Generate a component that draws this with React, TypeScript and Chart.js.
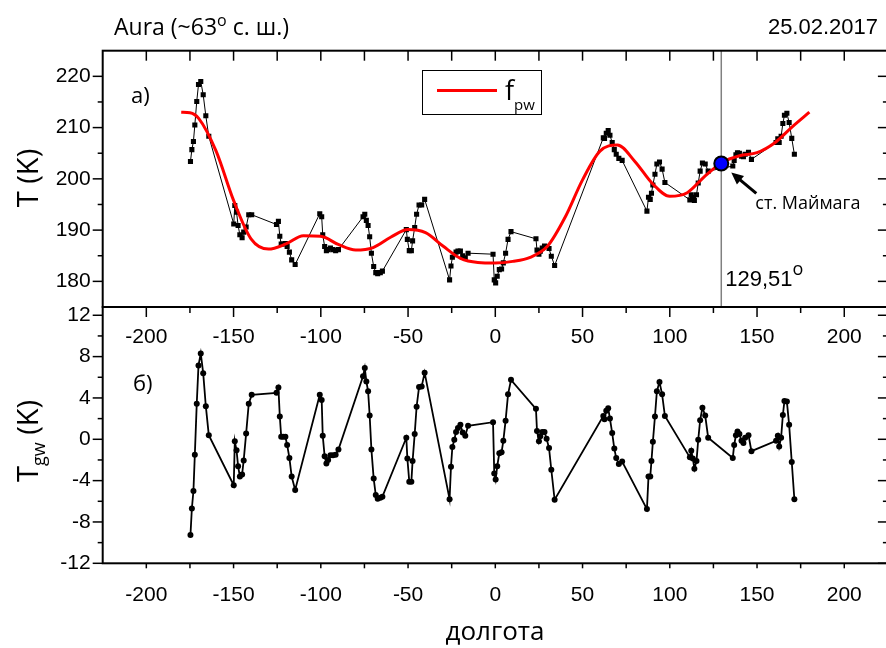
import React, { useEffect, useRef } from "react";
import { Chart, registerables } from "chart.js";
Chart.register(...registerables);

// longitude of each measurement (deg)
const lon = [
  -174.7, -173.9, -173.0, -172.2, -171.1, -170.1, -168.8, -167.4, -165.9, -164.2,
  -149.9, -149.3, -148.3, -147.4, -146.4, -145.1, -144.2, -142.8, -141.3, -139.6,
  -125.4, -124.3, -123.5, -122.7, -121.6, -120.3, -119.3, -118.0, -116.7, -114.7,
  -100.6, -99.5, -98.9, -97.8, -96.8, -95.8, -94.5, -93.0, -91.5, -89.9,
  -75.8, -74.8, -73.9, -72.9, -72.0, -71.0, -69.7, -68.5, -67.4, -65.9, -64.7,
  -51.0, -50.4, -49.3, -48.1, -47.4, -46.2, -45.1, -43.7, -42.2, -40.5,
  -26.2, -25.4, -24.6, -23.5, -22.5, -21.4, -20.0, -18.7, -17.2, -15.6,
  -1.3, -0.6, 0.2, 1.1, 2.3, 3.6, 4.6, 5.9, 7.3, 9.0,
  23.3, 23.9, 25.0, 25.8, 26.9, 28.2, 29.4, 30.8, 32.1, 34.0,
  61.9, 62.6, 63.6, 64.7, 65.7, 67.0, 68.2, 69.3, 70.8, 72.7,
  86.9, 87.8, 88.8, 89.5, 90.3, 91.5, 92.6, 94.1, 95.6, 97.2,
  111.5, 112.3, 113.2, 114.1, 115.3, 116.3, 117.4, 118.7, 120.3, 122.0,
  136.1, 136.9, 137.9, 138.8, 139.9, 141.1, 142.2, 143.2, 145.1, 146.8,
  160.9, 161.9, 162.7, 163.8, 164.8, 165.7, 167.1, 168.4, 169.9, 171.4,
];

// temperature T (K), upper panel
const tK = [
  203.4, 205.7, 207.3, 210.5, 215.1, 218.4, 219.0, 216.4, 212.3, 208.3,
  191.2, 194.8, 193.5, 190.9, 189.1, 188.5, 189.6, 190.6, 193.0, 193.0,
  191.1, 191.7, 188.8, 187.3, 187.3, 187.4, 186.8, 185.7, 184.2, 183.3,
  193.2, 192.6, 189.1, 186.8, 186.0, 186.2, 186.5, 186.2, 186.0, 186.2,
  192.6, 193.1, 191.9, 190.9, 188.7, 185.5, 182.9, 181.7, 181.5, 181.7, 182.0,
  190.1, 188.2, 186.0, 186.0, 187.9, 190.5, 193.1, 194.9, 194.9, 196.0,
  180.3, 183.0, 184.7, 185.2, 185.7, 185.9, 185.9, 185.0, 184.6, 185.5,
  185.3, 180.3, 179.7, 181.0, 182.3, 182.4, 183.6, 185.5, 188.2, 189.7,
  188.3, 186.1, 185.3, 185.9, 186.5, 186.9, 186.8, 186.4, 184.9, 183.1,
  208.0, 207.9, 208.9, 209.4, 208.5, 207.1, 205.7, 204.8, 204.0, 203.6,
  193.7, 196.4, 196.0, 197.2, 198.8, 200.9, 202.9, 203.3, 201.9, 199.3,
  195.9, 196.9, 196.4, 195.8, 196.9, 199.2, 201.5, 203.1, 202.9, 201.5,
  202.5, 203.6, 204.7, 205.1, 205.0, 204.4, 204.3, 204.8, 205.2, 203.8,
  207.1, 207.8, 207.1, 208.3, 210.8, 212.4, 212.8, 211.0, 207.9, 204.8,
];

// gravity-wave residual T_gw (K), lower panel
const tgw = [
  -9.25, -6.7, -5.0, -1.5, 3.45, 7.15, 8.3, 6.4, 3.2, 0.4,
  -4.45, -0.2, -1.05, -2.6, -3.6, -3.4, -2.05, 0.55, 3.45, 4.3,
  4.5, 5.0, 2.2, 0.25, 0.25, 0.25, -0.55, -1.8, -3.6, -4.9,
  4.3, 3.8, 0.35, -1.65, -2.35, -2.0, -1.55, -1.55, -1.5, -1.0,
  6.1, 6.9, 5.6, 4.65, 2.3, -1.0, -3.8, -5.4, -5.75, -5.65, -5.55,
  0.15, -1.85, -4.1, -4.1, -2.1, 0.5, 3.15, 5.05, 5.1, 6.45,
  -5.8, -2.65, -0.75, -0.05, 0.7, 1.1, 1.4, 0.65, 0.35, 1.3,
  1.65, -3.3, -3.9, -2.6, -1.35, -1.25, -0.15, 1.8, 4.35, 5.75,
  2.95, 0.8, -0.2, 0.3, 0.7, 0.7, 0.05, -0.85, -2.95, -5.85,
  2.25, 1.95, 2.75, 3.0, 2.0, 0.6, -0.9, -1.8, -2.4, -2.15,
  -6.75, -3.6, -3.6, -2.1, -0.25, 2.2, 4.65, 5.55, 4.35, 2.25,
  -1.75, -1.1, -1.85, -2.85, -2.1, -0.05, 1.85, 3.05, 2.3, 0.15,
  -1.8, -0.55, 0.4, 0.75, 0.5, -0.15, -0.35, 0.15, 0.4, -1.15,
  -0.15, 0.35, -0.7, 0.15, 2.35, 3.7, 3.65, 1.4, -2.2, -5.8,
];

// planetary-wave fit f_pw (K)
const fpwLon = [
  -180, -175, -170, -160, -150, -140, -130, -120, -110, -100, -90, -80, -70, -60,
  -50, -40, -30, -20, -10, 0, 10, 20, 30, 40, 50, 60, 70, 80, 90, 100, 110, 120,
  130, 140, 150, 160, 170, 180,
];
const fpwK = [
  213.0, 212.9, 211.8, 205.4, 195.8, 188.3, 186.3, 187.3, 188.9, 188.8, 187.2, 186.1, 186.6, 188.6,
  190.1, 189.5, 186.9, 184.5, 183.7, 183.6, 183.9, 184.7, 186.9, 192.5, 199.8, 205.4, 206.6, 203.4,
  199.1, 196.6, 197.3, 200.5, 203.2, 204.5, 205.1, 207.0, 210.1, 213.0,
];

const stationLon = 129.51;
const stationT = 203.0;

const xTicks = [-200, -150, -100, -50, 0, 50, 100, 150, 200];
const xMinorTicks = [-175, -125, -75, -25, 25, 75, 125, 175];
const yTopTicks = [180, 190, 200, 210, 220];
const yTopMinor = [185, 195, 205, 215];
const yBotTicks = [-12, -8, -4, 0, 4, 8, 12];
const yBotMinor = [-10, -6, -2, 2, 6, 10];

const OS = "'Open Sans', 'DejaVu Sans', sans-serif";
const LS = "'Liberation Sans', Arial, sans-serif";

type Part = { text: string; font: string; dy?: number };
function drawParts(ctx: CanvasRenderingContext2D, parts: Part[], x: number, y: number, align: string) {
  let total = 0;
  for (const p of parts) {
    ctx.font = p.font;
    total += ctx.measureText(p.text).width;
  }
  let cx = align === "left" ? x : align === "center" ? x - total / 2 : x - total;
  ctx.textAlign = "left";
  for (const p of parts) {
    ctx.font = p.font;
    ctx.fillText(p.text, cx, y + (p.dy || 0));
    cx += ctx.measureText(p.text).width;
  }
}

export default function App() {
  const ref = useRef<HTMLCanvasElement>(null);
  useEffect(() => {
    document.body.style.margin = "0";
    const canvas = ref.current!;
    const W = 900;
    const H = 648;
    const L = 102.7;
    const R = 887.9;
    const TOP = 50.7;
    const BOT = 563.3;

    const plugin = {
      id: "decor",
      afterDatasetsDraw(chart: any) {
        const ctx: CanvasRenderingContext2D = chart.ctx;
        const x = chart.scales.x;
        const yT = chart.scales.yT;
        const yB = chart.scales.yB;
        const l = chart.chartArea.left;
        const r = chart.chartArea.right;
        const line = (x1: number, y1: number, x2: number, y2: number) => {
          ctx.beginPath();
          ctx.moveTo(x1, y1);
          ctx.lineTo(x2, y2);
          ctx.stroke();
        };
        ctx.save();
        ctx.strokeStyle = "#000";
        ctx.lineWidth = 1.5;
        // upper panel ticks
        for (const v of [...xTicks, ...xMinorTicks]) {
          const px = x.getPixelForValue(v);
          line(px, yT.top, px, yT.top + 10);
        }
        for (const v of yTopTicks) {
          const py = yT.getPixelForValue(v);
          line(l - 10, py, l, py);
          line(r - 10, py, r, py);
        }
        for (const v of yTopMinor) {
          const py = yT.getPixelForValue(v);
          line(l - 5, py, l, py);
          line(r - 5, py, r, py);
        }
        // lower panel ticks
        for (const v of xTicks) {
          const px = x.getPixelForValue(v);
          line(px, yB.top, px, yB.top + 10);
          line(px, yB.bottom, px, yB.bottom + 5);
        }
        for (const v of xMinorTicks) {
          const px = x.getPixelForValue(v);
          line(px, yB.top, px, yB.top + 6);
          line(px, yB.bottom, px, yB.bottom + 5);
        }
        for (const v of yBotTicks) {
          const py = yB.getPixelForValue(v);
          line(l - 10, py, l, py);
          line(r - 10, py, r, py);
        }
        for (const v of yBotMinor) {
          const py = yB.getPixelForValue(v);
          line(l - 5, py, l, py);
          line(r - 5, py, r, py);
        }
        // frames
        ctx.lineWidth = 2;
        ctx.strokeRect(l, yT.top, r - l, yT.bottom - yT.top);
        ctx.strokeRect(l, yB.top, r - l, yB.bottom - yB.top);

        // inner tick labels of lower panel top axis
        ctx.fillStyle = "#000";
        ctx.font = `21px ${LS}`;
        ctx.textAlign = "center";
        ctx.textBaseline = "middle";
        for (const v of xTicks) {
          ctx.fillText(String(v), x.getPixelForValue(v), yB.top + 30);
        }
        ctx.textBaseline = "alphabetic";

        // panel letters
        drawParts(ctx, [{ text: "а)", font: `22px ${OS}` }], 131, 103, "left");
        drawParts(ctx, [{ text: "б)", font: `22px ${OS}` }], 133, 391, "left");

        // header
        drawParts(
          ctx,
          [
            { text: "Aura (~63", font: `23px ${OS}` },
            { text: "o", font: `16px ${OS}`, dy: -9 },
            { text: " с. ш.)", font: `23px ${OS}` },
          ],
          114,
          35,
          "left"
        );
        drawParts(ctx, [{ text: "25.02.2017", font: `22px ${LS}` }], 878, 34, "right");

        // legend
        ctx.lineWidth = 1;
        ctx.strokeRect(422.5, 70.5, 119, 44);
        ctx.strokeStyle = "#ff0000";
        ctx.lineWidth = 3;
        line(437, 90.5, 497, 90.5);
        drawParts(
          ctx,
          [
            { text: "f", font: `27px ${OS}` },
            { text: "pw", font: `15px ${OS}`, dy: 10 },
          ],
          505,
          100,
          "left"
        );

        // station annotation
        const sx = x.getPixelForValue(stationLon);
        drawParts(
          ctx,
          [
            { text: "129,51", font: `22px ${LS}` },
            { text: "o", font: `18px ${OS}`, dy: -11 },
          ],
          sx + 4,
          286,
          "left"
        );
        drawParts(ctx, [{ text: "ст. Маймага", font: `18px ${OS}` }], sx + 34, 209, "left");
        // arrow
        const sy = yT.getPixelForValue(stationT);
        const tipX = sx + 10;
        const tipY = sy + 9;
        const tailX = sx + 35;
        const tailY = sy + 30;
        const ang = Math.atan2(tipY - tailY, tipX - tailX);
        ctx.strokeStyle = "#000";
        ctx.lineWidth = 3;
        line(tailX, tailY, tipX - 8 * Math.cos(ang), tipY - 8 * Math.sin(ang));
        ctx.beginPath();
        ctx.moveTo(tipX, tipY);
        ctx.lineTo(tipX - 12 * Math.cos(ang) + 5.5 * Math.sin(ang), tipY - 12 * Math.sin(ang) - 5.5 * Math.cos(ang));
        ctx.lineTo(tipX - 12 * Math.cos(ang) - 5.5 * Math.sin(ang), tipY - 12 * Math.sin(ang) + 5.5 * Math.cos(ang));
        ctx.closePath();
        ctx.fillStyle = "#000";
        ctx.fill();

        // axis titles
        ctx.save();
        ctx.translate(38, 178);
        ctx.rotate(-Math.PI / 2);
        drawParts(ctx, [{ text: "T (K)", font: `29px ${OS}` }], 0, 0, "center");
        ctx.restore();
        ctx.save();
        ctx.translate(38, 441);
        ctx.rotate(-Math.PI / 2);
        drawParts(
          ctx,
          [
            { text: "T", font: `29px ${OS}` },
            { text: "gw", font: `18px ${OS}`, dy: 7 },
            { text: " (K)", font: `29px ${OS}` },
          ],
          0,
          0,
          "center"
        );
        ctx.restore();
        drawParts(ctx, [{ text: "долгота", font: `26px ${OS}` }], 495, 640, "center");
        ctx.restore();
      },
    };

    const yTickOpts = { font: { family: LS, size: 21 }, color: "#000", padding: 12, autoSkip: false };

    const chart = new Chart(canvas, {
      type: "line",
      data: {
        datasets: [
          {
            label: "station",
            data: [{ x: stationLon, y: stationT }],
            xAxisID: "x",
            yAxisID: "yT",
            showLine: false,
            pointRadius: 7,
            pointBackgroundColor: "#0000ff",
            pointBorderColor: "#000",
            pointBorderWidth: 2,
          },
          {
            label: "fpw",
            data: fpwLon.map((v, i) => ({ x: v, y: fpwK[i] })),
            xAxisID: "x",
            yAxisID: "yT",
            borderColor: "#ff0000",
            borderWidth: 3,
            pointRadius: 0,
            cubicInterpolationMode: "monotone",
          },
          {
            label: "T",
            data: lon.map((v, i) => ({ x: v, y: tK[i] })),
            xAxisID: "x",
            yAxisID: "yT",
            borderColor: "#000",
            borderWidth: 1,
            pointStyle: "rect",
            pointRadius: 3.6,
            pointBackgroundColor: "#000",
            pointBorderColor: "#000",
            pointBorderWidth: 0,
            tension: 0,
          },
          {
            label: "vline",
            data: [
              { x: stationLon, y: 175 },
              { x: stationLon, y: 225 },
            ],
            xAxisID: "x",
            yAxisID: "yT",
            borderColor: "#808080",
            borderWidth: 1.5,
            pointRadius: 0,
          },
          {
            label: "Tgw",
            data: lon.map((v, i) => ({ x: v, y: tgw[i] })),
            xAxisID: "x",
            yAxisID: "yB",
            borderColor: "#000",
            borderWidth: 1.8,
            pointRadius: 3,
            pointBackgroundColor: "#000",
            pointBorderColor: "#000",
            pointBorderWidth: 0,
            tension: 0,
          },
        ],
      },
      options: {
        responsive: false,
        animation: false,
        devicePixelRatio: 1,
        layout: { padding: { left: 0, top: TOP, right: W - R, bottom: 0 } },
        plugins: { legend: { display: false }, tooltip: { enabled: false }, title: { display: false } },
        scales: {
          yB: {
            type: "linear",
            position: "left",
            stack: "panels",
            stackWeight: 1,
            min: -12,
            max: 12.8,
            afterBuildTicks: (s: any) => {
              s.ticks = yBotTicks.map((v) => ({ value: v }));
            },
            afterFit: (s: any) => {
              s.width = L;
            },
            grid: { display: false, drawTicks: false, tickLength: 0 },
            border: { display: false },
            ticks: yTickOpts,
          },
          yT: {
            type: "linear",
            position: "left",
            stack: "panels",
            stackWeight: 1,
            min: 175,
            max: 225,
            afterBuildTicks: (s: any) => {
              s.ticks = yTopTicks.map((v) => ({ value: v }));
            },
            afterFit: (s: any) => {
              s.width = L;
            },
            grid: { display: false, drawTicks: false, tickLength: 0 },
            border: { display: false },
            ticks: yTickOpts,
          },
          x: {
            type: "linear",
            position: "bottom",
            min: -225,
            max: 225,
            afterBuildTicks: (s: any) => {
              s.ticks = xTicks.map((v) => ({ value: v }));
            },
            afterFit: (s: any) => {
              s.height = H - BOT;
            },
            grid: { display: false, drawTicks: false, tickLength: 0 },
            border: { display: false },
            ticks: { font: { family: LS, size: 21 }, color: "#000", padding: 19, maxRotation: 0, autoSkip: false },
          },
        },
      },
      plugins: [plugin],
    } as any);
    return () => chart.destroy();
  }, []);
  return (
    <div style={{ width: 886, height: 648, overflow: "hidden", position: "relative", background: "#fff" }}>
      <canvas ref={ref} width={900} height={648} style={{ display: "block", width: 900, height: 648 }} />
    </div>
  );
}
